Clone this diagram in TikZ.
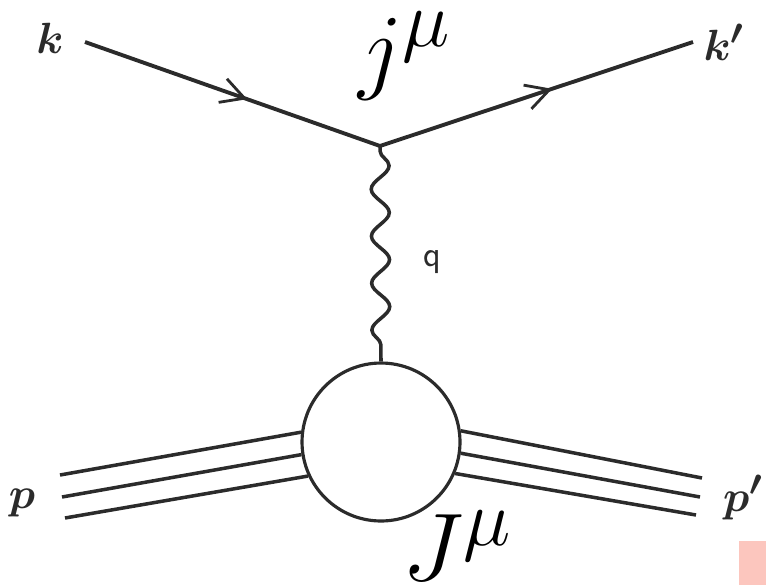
\documentclass[tikz,border=0pt]{standalone}
\usepackage{amsmath}
\usepackage{tikz}
\usetikzlibrary{arrows.meta,decorations.markings,decorations.pathmorphing}
\definecolor{ink}{HTML}{2B2B2B}
\definecolor{stamp}{HTML}{FCC6BE}

\begin{document}
\begin{tikzpicture}[
    x=0.02cm, y=-0.02cm,
    fermion/.style={line width=2.2pt,ink,
      postaction={decorate,decoration={markings,
        mark=at position 0.55 with {\arrow[line width=1.6pt]{Straight Barb[length=4.6mm,width=5mm]}}}}},
    photon/.style={line width=2pt,ink,decorate,
      decoration={snake,amplitude=1.8mm,segment length=9.4mm,pre length=1mm,post length=1mm}},
    hadron/.style={line width=2pt,ink},
    blob/.style={circle,draw=ink,line width=1.8pt,minimum size=3.16cm,inner sep=0pt},
    mom/.style={font=\Huge,text=ink},
    current/.style={font=\Huge,scale=2.2,inner sep=0pt}
]
\useasboundingbox (0,0) rectangle (766,585);

% Lepton line
\coordinate (kin)  at (85,42);
\coordinate (vtx)  at (380,146);
\coordinate (kout) at (693,42);
\node[mom] (klab)  at (50,38) {$\boldsymbol{k}$};
\node[mom] (kplab) at (724,42) {$\boldsymbol{k'}$};
\node[current] (jlab) at (405,56) {$j^\mu$};

\draw[fermion] (kin) -- (vtx);
\draw[fermion] (vtx) -- (kout);

% Hadron blob
\node[blob] (blob) at (381,442) {};
\node[current] (Jlab) at (458,546) {$J^\mu$};

\draw[photon] (vtx) -- (blob.north);
\node[font=\huge\sffamily,text=ink] (qlab) at (432,262) {q};

% Incoming and outgoing hadron lines
\coordinate (pin1)  at (60,475);
\coordinate (pin2)  at (62,497);
\coordinate (pin3)  at (65,518);
\coordinate (pout1) at (702,478);
\coordinate (pout2) at (700,497);
\coordinate (pout3) at (696,515);
\node[mom] (plab)  at (22,503) {$\boldsymbol{p}$};
\node[mom] (pplab) at (743,498) {$\boldsymbol{p'}$};

\draw[hadron] (pin1) -- (blob.173);
\draw[hadron] (pin2) -- (blob.189);
\draw[hadron] (pin3) -- (blob.205);
\draw[hadron] (blob.8) -- (pout1);
\draw[hadron] (blob.-8) -- (pout2);
\draw[hadron] (blob.-23) -- (pout3);

% corner mark
\fill[stamp] (739,541) rectangle (766,585);
\end{tikzpicture}
\end{document}
